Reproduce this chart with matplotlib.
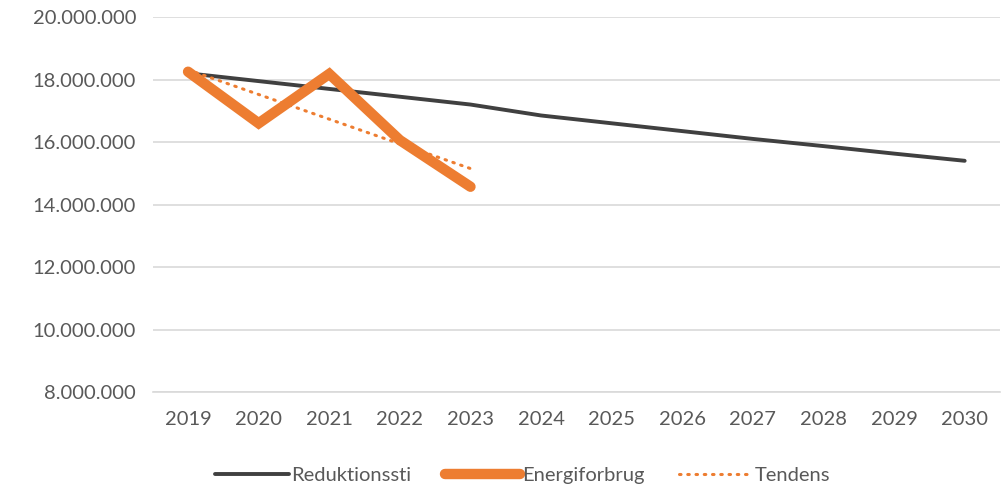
import numpy as np
import matplotlib
matplotlib.use('Agg')
import matplotlib.pyplot as plt
from matplotlib.ticker import FuncFormatter

plt.rcParams['font.family'] = ['Lato', 'DejaVu Sans']

years = ['2019', '2020', '2021', '2022', '2023', '2024', '2025', '2026',
         '2027', '2028', '2029', '2030']
reduktionssti = [18200000, 17950000, 17700000, 17450000, 17200000, 16850000,
                 16600000, 16350000, 16100000, 15870000, 15630000, 15400000]
energiforbrug = [18250000, 16600000, 18180000, 16060000, 14570000]

x = np.arange(len(years))
xe = np.arange(len(energiforbrug))
# lineær tendens af energiforbrug
k, m = np.polyfit(xe, energiforbrug, 1)
tendens = k * xe + m

fig = plt.figure(figsize=(10.05, 4.87), dpi=100)
ax = fig.add_axes([0.152, 0.195, 0.843, 0.77])

ax.plot(x, reduktionssti, color='#404040', lw=2.8, solid_capstyle='round',
        label='Reduktionssti', zorder=3)
ax.plot(xe, energiforbrug, color='#ED7D31', lw=7.5, solid_capstyle='round',
        solid_joinstyle='miter', label='Energiforbrug', zorder=4)
ax.plot(xe, tendens, color='#ED7D31', lw=2.2, linestyle=(0, (0.5, 2.2)),
        dash_capstyle='round', label='Tendens', zorder=5)

ax.set_xlim(-0.5, len(years) - 0.5)
ax.set_ylim(8000000, 20000000)
ax.set_yticks(np.arange(8000000, 20000001, 2000000))
ax.yaxis.set_major_formatter(FuncFormatter(lambda v, p: f'{int(v):,}'.replace(',', '.')))
ax.set_xticks(x)
ax.set_xticklabels(years)
ax.grid(axis='y', color='#D9D9D9', lw=1.2)
ax.set_axisbelow(True)
for s in ['left', 'right', 'top']:
    ax.spines[s].set_visible(False)
ax.spines['bottom'].set_color('#D9D9D9')
ax.spines['bottom'].set_linewidth(1.2)
ax.tick_params(axis='both', length=0, labelsize=14.5, colors='#595959')
ax.tick_params(axis='y', pad=12)
ax.tick_params(axis='x', pad=14)

leg = fig.legend(loc='lower center', bbox_to_anchor=(0.52, -0.032), ncol=3,
                 frameon=False, fontsize=14.5, handlelength=3.7,
                 handletextpad=0.1, columnspacing=1.7)
for t in leg.get_texts():
    t.set_color('#595959')

fig.savefig('out.png', dpi=100)
